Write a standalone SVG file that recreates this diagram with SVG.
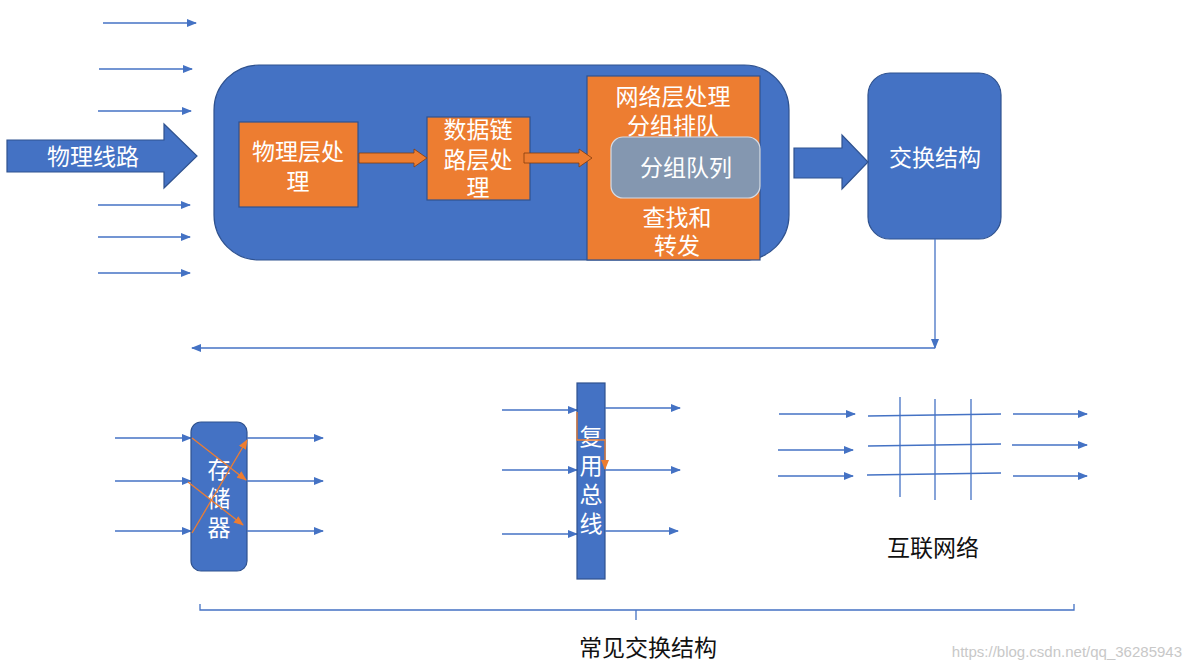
<svg xmlns="http://www.w3.org/2000/svg" width="1191" height="669" viewBox="0 0 1191 669">
<defs>
<marker id="ab" markerWidth="10" markerHeight="8" refX="9" refY="4" orient="auto" markerUnits="userSpaceOnUse"><path d="M0,0 L10,4 L0,8 Z" fill="#4472C4"/></marker>
<marker id="ao" markerWidth="10" markerHeight="8" refX="9" refY="4" orient="auto" markerUnits="userSpaceOnUse"><path d="M0,0 L10,4 L0,8 Z" fill="#ED7D31"/></marker>
</defs>
<style>
.t{font-family:"Noto Sans CJK SC","Noto Sans",sans-serif;font-size:23px;fill:#fff;text-anchor:middle}
.k{font-family:"Noto Sans CJK SC","Noto Sans",sans-serif;font-size:23px;fill:#111;text-anchor:middle}
.bl{fill:#4472C4;stroke:#2F528F;stroke-width:1.2}
.or{fill:#ED7D31;stroke:#2F528F;stroke-width:1.2}
.la{stroke:#4472C4;stroke-width:1.3;fill:none;marker-end:url(#ab)}
.ln{stroke:#4472C4;stroke-width:1.3;fill:none}
.lo{stroke:#ED7D31;stroke-width:1.3;fill:none;marker-end:url(#ao)}
.fa{fill:#ED7D31;stroke:#843C0C;stroke-width:0.8}
</style>
<rect width="1191" height="669" fill="#fff"/>

<g id="inputs">
<line class="la" x1="103" y1="23" x2="196" y2="23"/>
<line class="la" x1="99" y1="69" x2="192" y2="69"/>
<line class="la" x1="98" y1="111" x2="191" y2="111"/>
<line class="la" x1="98" y1="205" x2="190" y2="205"/>
<line class="la" x1="98" y1="237" x2="190" y2="237"/>
<line class="la" x1="98" y1="273" x2="190" y2="273"/>
</g>

<g id="physical-line">
<path class="bl" d="M7,140 L164,140 L164,124 L197,156 L164,188 L164,172 L7,172 Z"/>
<text class="t" x="93" y="165">物理线路</text>
</g>

<g id="router">
<rect class="bl" x="214" y="65" width="575" height="195" rx="45"/>
</g>

<g id="phy">
<rect class="or" x="239" y="122" width="119" height="85"/>
<text class="t" x="298" y="160">物理层处<tspan x="298" dy="30">理</tspan></text>
</g>

<g id="link">
<rect class="or" x="427" y="117" width="103" height="83"/>
<text class="t" x="478" y="138">数据链<tspan x="478" dy="30">路层处</tspan><tspan x="478" dy="28">理</tspan></text>
</g>

<g id="net">
<rect class="or" x="587" y="76" width="173" height="184"/>
<text class="t" x="673" y="105">网络层处理<tspan x="673" dy="29">分组排队</tspan></text>
<text class="t" x="677" y="226">查找和<tspan x="677" dy="28">转发</tspan></text>
</g>

<g id="queue">
<rect x="611" y="137" width="149" height="61" rx="12" fill="#8497B0" stroke="#D6DCE5" stroke-width="1.2"/>
<text class="t" x="686" y="176">分组队列</text>
</g>

<g id="fabric">
<rect class="bl" x="868" y="73" width="133" height="166" rx="22"/>
<text class="t" x="935" y="166">交换结构</text>
</g>

<g id="connectors">
<path class="fa" d="M359,153 L414,153 L414,149 L427,158 L414,167 L414,163 L359,163 Z"/>
<path class="fa" d="M524,153 L579,153 L579,149 L592,158 L579,167 L579,163 L524,163 Z"/>
<path class="bl" d="M794,148 L842,148 L842,135 L868,162 L842,189 L842,178 L794,178 Z"/>
<line class="la" x1="935" y1="239" x2="935" y2="348"/>
<line class="la" x1="935" y1="348" x2="192" y2="348"/>
</g>

<g id="memory">
<line class="la" x1="115" y1="438" x2="191" y2="438"/>
<line class="la" x1="115" y1="481" x2="191" y2="481"/>
<line class="la" x1="115" y1="531" x2="191" y2="531"/>
<rect class="bl" x="191" y="422" width="56" height="149" rx="10"/>
<text class="t" x="219" y="478" font-size="24">存<tspan x="219" dy="29">储</tspan><tspan x="219" dy="29">器</tspan></text>
<line class="la" x1="247" y1="438" x2="323" y2="438"/>
<line class="la" x1="247" y1="481" x2="323" y2="481"/>
<line class="la" x1="247" y1="531" x2="323" y2="531"/>
<line class="lo" x1="192" y1="438" x2="246" y2="480"/>
<line class="lo" x1="188" y1="482" x2="243" y2="525"/>
<line class="lo" x1="192" y1="533" x2="247" y2="440"/>
</g>

<g id="bus">
<line class="la" x1="502" y1="410" x2="577" y2="410"/>
<line class="la" x1="502" y1="470" x2="577" y2="470"/>
<line class="la" x1="502" y1="534" x2="577" y2="534"/>
<rect class="bl" x="577" y="383" width="28" height="196"/>
<text class="t" x="591" y="445" font-size="22">复<tspan x="591" dy="29">用</tspan><tspan x="591" dy="29">总</tspan><tspan x="591" dy="29">线</tspan></text>
<line class="la" x1="605" y1="408" x2="680" y2="408"/>
<line class="la" x1="605" y1="470" x2="680" y2="470"/>
<line class="la" x1="605" y1="531" x2="678" y2="531"/>
<polyline class="lo" points="577,412 577,440 605,440 605,469"/>
</g>

<g id="crossbar">
<line class="la" x1="779" y1="414" x2="855" y2="414"/>
<line class="la" x1="778" y1="450" x2="853" y2="450"/>
<line class="la" x1="778" y1="476" x2="853" y2="476"/>
<line class="ln" x1="868" y1="416" x2="1001" y2="414"/>
<line class="ln" x1="868" y1="446" x2="1001" y2="444"/>
<line class="ln" x1="867" y1="475" x2="1001" y2="473"/>
<line class="ln" x1="900" y1="397" x2="900" y2="497"/>
<line class="ln" x1="935" y1="399" x2="935" y2="500"/>
<line class="ln" x1="971" y1="399" x2="971" y2="500"/>
<line class="la" x1="1013" y1="414" x2="1087" y2="414"/>
<line class="la" x1="1012" y1="445" x2="1087" y2="445"/>
<line class="la" x1="1013" y1="476" x2="1087" y2="476"/>
<text class="k" x="933" y="556">互联网络</text>
</g>

<g id="brace">
<path class="ln" d="M200,604 L200,610 L1074,610 L1074,604 M636,610 L636,620"/>
<text class="k" x="648" y="656">常见交换结构</text>
</g>

<text x="1182" y="657" text-anchor="end" font-family="Liberation Sans, sans-serif" font-size="15" fill="#C8C8C8">https://blog.csdn.net/qq_36285943</text>
</svg>
